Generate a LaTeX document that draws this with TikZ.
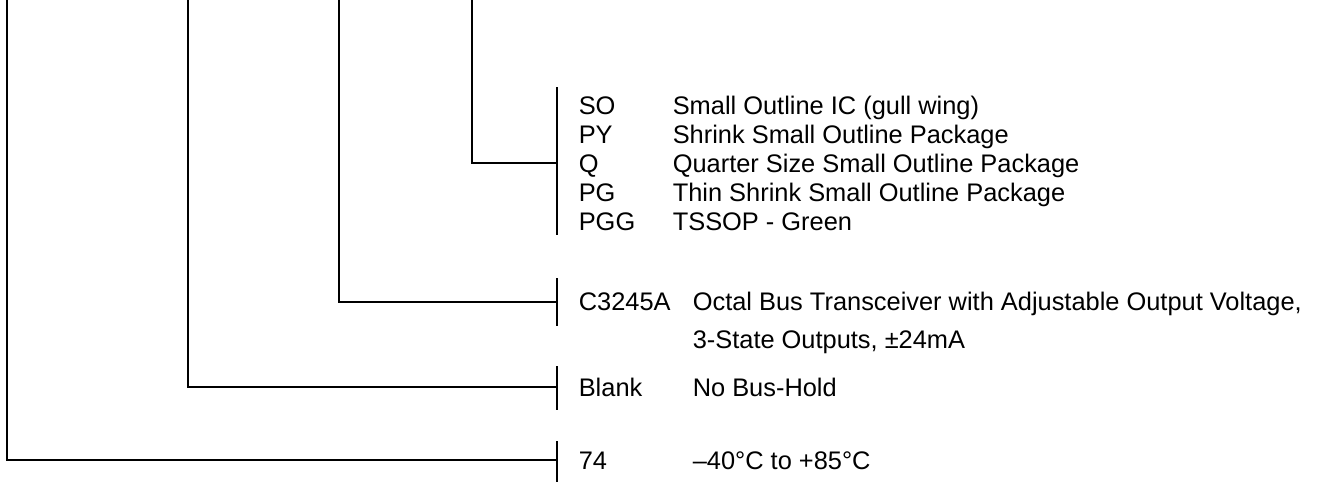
\documentclass[tikz,border=0pt]{standalone}
\usepackage{fontspec}
\setmainfont{Liberation Sans}
\usetikzlibrary{positioning}

\begin{document}
\begin{tikzpicture}[x=0.5pt, y=-0.5pt, line width=0.8pt,
    code/.style={font=\fontsize{12.7}{14.5}\selectfont, anchor=base west, inner sep=0pt},
    desc/.style={code, align=left}]
  \useasboundingbox (0,0) rectangle (1319,483);

  % package
  \coordinate (pkgTop) at (472,0);
  \coordinate (pkgBar) at (557,163);
  \draw (557,87) -- (557,235);
  \draw (pkgTop) |- (pkgBar);
  \node[code] (so) at (578,114) {SO};
  \node[code] (py) at (578,143) {PY};
  \node[code] (q) at (578,172) {Q};
  \node[code] (pg) at (578,201) {PG};
  \node[code] (pgg) at (578,230) {PGG};
  \node[code] (soDesc) at (672,114) {Small Outline IC (gull wing)};
  \node[code] (pyDesc) at (672,143) {Shrink Small Outline Package};
  \node[code] (qDesc) at (672,172) {Quarter Size Small Outline Package};
  \node[code] (pgDesc) at (672,201) {Thin Shrink Small Outline Package};
  \node[code] (pggDesc) at (672,230) {TSSOP - Green};

  % function
  \coordinate (funcTop) at (339,0);
  \coordinate (funcBar) at (557,302);
  \draw (557,278) -- (557,326);
  \draw (funcTop) |- (funcBar);
  \node[code] (func) at (578,310) {C3245A};
  \node[desc] (funcDesc) at (692,348) {Octal Bus Transceiver with Adjustable Output Voltage,\\[4.5pt]3-State Outputs, ±24mA};

  % bus-hold
  \coordinate (holdTop) at (188,0);
  \coordinate (holdBar) at (557,387);
  \draw (557,366) -- (557,410);
  \draw (holdTop) |- (holdBar);
  \node[code] (hold) at (578,396) {Blank};
  \node[code] (holdDesc) at (692,396) {No Bus-Hold};

  % temperature
  \coordinate (tempTop) at (7,0);
  \coordinate (tempBar) at (557,460);
  \draw (557,441) -- (557,482);
  \draw (tempTop) |- (tempBar);
  \node[code] (temp) at (578,469) {74};
  \node[code] (tempDesc) at (692,469) {–40°C to +85°C};
\end{tikzpicture}
\end{document}
